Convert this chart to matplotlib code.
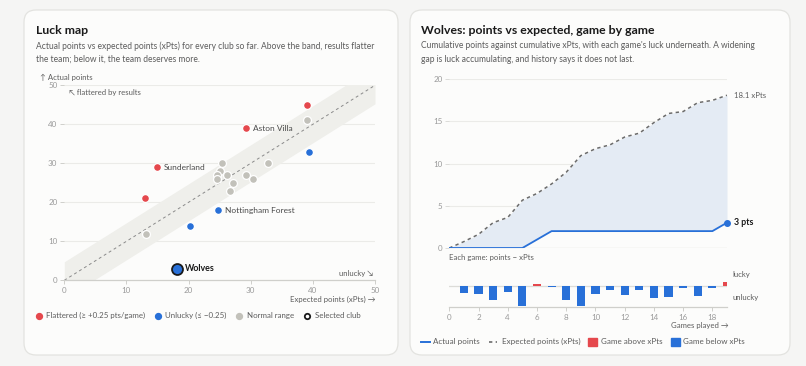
import matplotlib
matplotlib.use("Agg")
import matplotlib.pyplot as plt
from matplotlib.patches import FancyBboxPatch, Rectangle
from matplotlib.lines import Line2D
import numpy as np

plt.rcParams['font.family'] = ['Lato', 'DejaVu Sans']

# ---------------- data ----------------
club_names = ["A", "B", "Aston Villa", "C", "D", "Sunderland", "E", "F", "G", "H",
              "I", "J", "K", "L", "M", "N", "Nottingham Forest", "O", "P", "Wolves"]
club_xpts = [39.1, 39.1, 29.3, 39.3, 32.8, 14.9, 25.4, 25.1, 24.6, 24.6,
             26.2, 29.3, 30.4, 27.2, 26.6, 13.0, 24.7, 20.3, 13.2, 18.1]
club_pts = [45, 41, 39, 33, 30, 29, 30, 28, 27, 26,
            27, 27, 26, 25, 23, 21, 18, 14, 12, 3]
labelled = ["Aston Villa", "Sunderland", "Nottingham Forest"]
selected = "Wolves"
games_played = 19
threshold = 0.25

game_pts = [0, 0, 0, 0, 0, 1, 1, 0, 0, 0, 0, 0, 0, 0, 0, 0, 0, 0, 1]
game_xpts = [0.76, 0.86, 1.38, 0.62, 2.04, 0.80, 1.13, 1.38, 1.97, 0.82,
             0.46, 0.92, 0.46, 1.25, 1.08, 0.23, 1.05, 0.27, 0.61]

# ---------------- style ----------------
RED = "#e5484d"
BLUE = "#2870d8"
GREY = "#c2c1ba"
TXT = "#1a1a1a"
SUB = "#5c5c5c"
TICK = "#9a9a9a"
GRID = "#ebebe8"

W, H = 806, 366
fig = plt.figure(figsize=(W / 100, H / 100), dpi=100)
fig.patch.set_facecolor("#f5f5f4")

bg = fig.add_axes([0, 0, 1, 1], zorder=0)
bg.set_xlim(0, W)
bg.set_ylim(H, 0)
bg.axis("off")


def rect(x0, y0, x1, y1):
    return [x0 / W, 1 - y1 / H, (x1 - x0) / W, (y1 - y0) / H]


def txt(x, y, s, size=6.5, color=SUB, ha="left", va="center", weight="normal", **kw):
    bg.text(x, y, s, fontsize=size, color=color, ha=ha, va=va, fontweight=weight, **kw)


for (x0, x1) in [(24, 398), (410, 790)]:
    bg.add_patch(FancyBboxPatch((x0, 10), x1 - x0, 345, boxstyle="round,pad=0,rounding_size=12",
                                facecolor="#fcfcfb", edgecolor="#e3e3e0", lw=0.9))

# ---------------- left: luck map ----------------
txt(36, 30, "Luck map", size=8.8, color=TXT, weight="bold")
txt(36, 46, "Actual points vs expected points (xPts) for every club so far. Above the band, results flatter", size=6.15)
txt(36, 59.5, "the team; below it, the team deserves more.", size=6.15)

ax = fig.add_axes(rect(64.3, 85.3, 375, 280.3), zorder=2)
ax.patch.set_alpha(0)
ax.set_xlim(0, 50)
ax.set_ylim(0, 50)
band = threshold * games_played
xs = np.array([0, 50])
ax.fill_between(xs, xs - band, xs + band, color="#efefeb", lw=0, zorder=1)
ax.plot(xs, xs, ls=(0, (3, 3)), color="#8a8a8a", lw=0.7, zorder=2)
for v in [10, 20, 30, 40, 50]:
    ax.axhline(v, color=GRID, lw=0.8, zorder=0.5)
for s in ["top", "right", "left"]:
    ax.spines[s].set_visible(False)
ax.spines["bottom"].set_color("#cfcfcb")
ax.spines["bottom"].set_linewidth(0.9)
ax.set_xticks([0, 10, 20, 30, 40, 50])
ax.set_yticks([0, 10, 20, 30, 40, 50])
ax.tick_params(axis="both", labelsize=5.8, colors="#cfcfcb", labelcolor=TICK, length=3, width=0.7, pad=2)

for name, xv, yv in zip(club_names, club_xpts, club_pts):
    d = (yv - xv) / games_played
    if name == selected:
        ax.scatter([xv], [yv], s=62, color=BLUE, edgecolor=TXT, linewidth=1.3, zorder=5, clip_on=False)
        ax.annotate(name, (xv, yv), xytext=(6, 0), textcoords="offset points", fontsize=6.4,
                    fontweight="bold", color=TXT, va="center")
        continue
    c = RED if d >= threshold else (BLUE if d <= -threshold else GREY)
    ax.scatter([xv], [yv], s=32, color=c, edgecolor="white", linewidth=0.9, zorder=4)
    if name in labelled:
        ax.annotate(name, (xv, yv), xytext=(5, 0), textcoords="offset points", fontsize=6.0,
                    color="#4a4a4a", va="center")

txt(40.5, 77, "↑ Actual points", size=5.6, color="#5c5c5c")
txt(69, 92.7, "↖ flattered by results", size=5.6, color="#5c5c5c")
txt(373, 273.3, "unlucky ↘", size=5.6, color="#5c5c5c", ha="right")
txt(375, 299, "Expected points (xPts) →", size=5.6, color="#5c5c5c", ha="right")

ly = 315.7
bg.scatter([39], [ly], s=18, color=RED, zorder=3)
txt(45.7, ly, "Flattered (≥ +0.25 pts/game)", size=5.7)
bg.scatter([158], [ly], s=18, color=BLUE, zorder=3)
txt(165, ly, "Unlucky (≤ −0.25)", size=5.7)
bg.scatter([239], [ly], s=18, color=GREY, zorder=3)
txt(246.7, ly, "Normal range", size=5.7)
bg.scatter([307.3], [ly], s=15, facecolor="white", edgecolor=TXT, linewidth=1.3, zorder=3)
txt(315, ly, "Selected club", size=5.7)

# ---------------- right: Wolves game by game ----------------
txt(421, 30, "Wolves: points vs expected, game by game", size=8.8, color=TXT, weight="bold")
txt(421, 46, "Cumulative points against cumulative xPts, with each game's luck underneath. A widening", size=6.15)
txt(421, 59.5, "gap is luck accumulating, and history says it does not last.", size=6.15)

games = np.arange(0, games_played + 1)
cum_pts = np.concatenate([[0], np.cumsum(game_pts)])
cum_xpts = np.concatenate([[0], np.cumsum(game_xpts)])
diff = np.array(game_pts) - np.array(game_xpts)

ax2 = fig.add_axes(rect(449.3, 79.1, 727.0, 248), zorder=2)
ax2.patch.set_alpha(0)
ax2.set_xlim(0, games_played)
ax2.set_ylim(0, 20)
ax2.fill_between(games, cum_pts, cum_xpts, color="#e4ebf4", lw=0, zorder=1)
for v in [5, 10, 15, 20]:
    ax2.axhline(v, color=GRID, lw=0.8, zorder=0.5)
ax2.axhline(0, color="#d6d6d2", lw=0.9, zorder=0.6)
ax2.plot(games, cum_xpts, ls=(0, (2.2, 2.2)), color="#6b6b6b", lw=1.1, zorder=3)
ax2.plot(games, cum_pts, color=BLUE, lw=1.3, zorder=4)
ax2.scatter([games[-1]], [cum_pts[-1]], s=16, color=BLUE, zorder=5, clip_on=False)
for s in ax2.spines.values():
    s.set_visible(False)
ax2.set_xticks([])
ax2.set_yticks([0, 5, 10, 15, 20])
ax2.tick_params(axis="y", labelsize=5.8, colors="#dcdcd8", labelcolor=TICK, length=3, width=0.7, pad=2)
ax2.annotate(f"{cum_xpts[-1]:.1f} xPts", (games[-1], cum_xpts[-1]), xytext=(5, 0),
             textcoords="offset points", fontsize=5.6, color="#5c5c5c", va="center", annotation_clip=False)
ax2.annotate(f"{cum_pts[-1]:.0f} pts", (games[-1], cum_pts[-1]), xytext=(5, 0),
             textcoords="offset points", fontsize=6.3, color=TXT, fontweight="bold", va="center",
             annotation_clip=False)

txt(449.3, 257.3, "Each game: points − xPts", size=5.6, color="#5c5c5c")

lim = np.max(np.abs(diff)) * 1.015
ax3 = fig.add_axes(rect(449.3, 264.7, 727.0, 306.7), zorder=2)
ax3.patch.set_alpha(0)
ax3.set_xlim(0, games_played)
ax3.set_ylim(-lim, lim)
ax3.axhline(0, color="#dcdcd8", lw=0.9, zorder=0.5)
cols = [RED if d > 0 else BLUE for d in diff]
ax3.bar(games[1:], diff, width=0.56, color=cols, zorder=2)
for s in ["top", "right", "left"]:
    ax3.spines[s].set_visible(False)
ax3.spines["bottom"].set_color("#cfcfcb")
ax3.spines["bottom"].set_linewidth(0.9)
ax3.set_yticks([])
ax3.set_xticks(np.arange(0, 19, 2))
ax3.tick_params(axis="x", labelsize=5.8, colors="#cfcfcb", labelcolor=TICK, length=3, width=0.7, pad=2)

txt(732.7, 275, "lucky", size=5.6, color="#5c5c5c")
txt(732.7, 297.7, "unlucky", size=5.6, color="#5c5c5c")
txt(728.3, 325.3, "Games played →", size=5.6, color="#5c5c5c", ha="right")

ly2 = 341.7
bg.add_line(Line2D([421, 430], [ly2, ly2], color=BLUE, lw=1.4))
txt(433.3, ly2, "Actual points", size=5.8)
bg.add_line(Line2D([489, 497], [ly2, ly2], color="#6b6b6b", lw=1.2, ls=(0, (2, 2))))
txt(502.3, ly2, "Expected points (xPts)", size=5.8)
bg.add_patch(Rectangle((588, ly2 - 4), 8.7, 8, color=RED))
txt(600.7, ly2, "Game above xPts", size=5.8)
bg.add_patch(Rectangle((671, ly2 - 4), 8.7, 8, color=BLUE))
txt(683.3, ly2, "Game below xPts", size=5.8)

fig.savefig("out.png", dpi=100, facecolor=fig.get_facecolor())
